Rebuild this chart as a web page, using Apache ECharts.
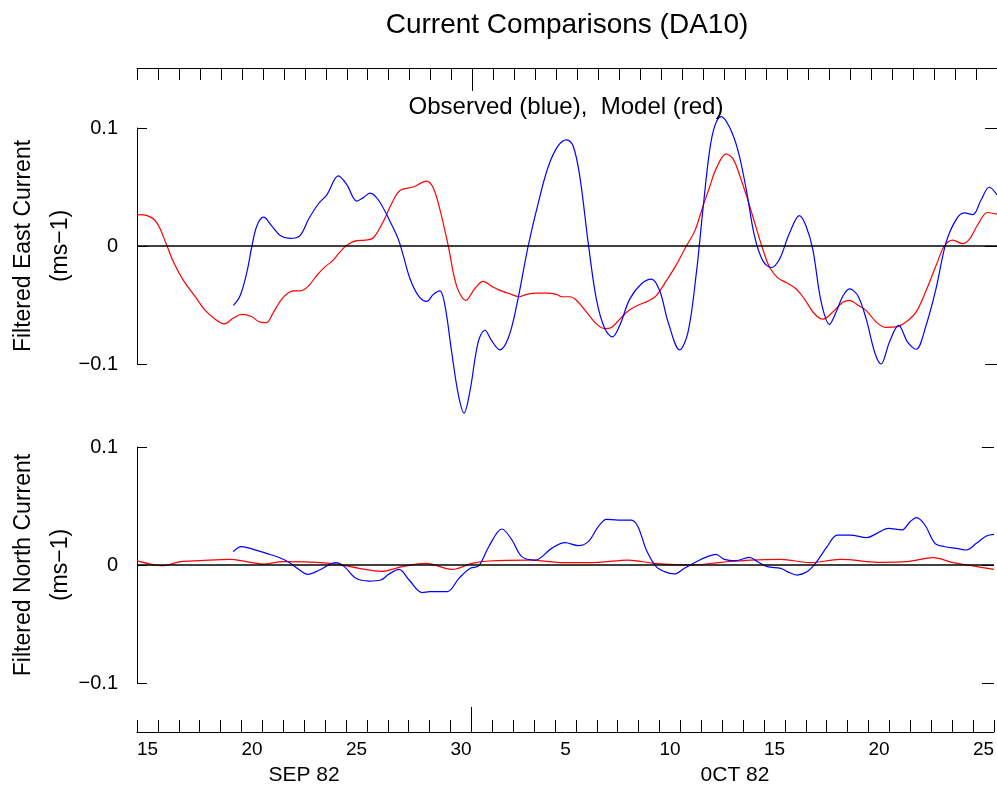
<!DOCTYPE html>
<html>
<head>
<meta charset="utf-8">
<script src="https://cdn.jsdelivr.net/npm/echarts@6/dist/echarts.min.js"></script>
<style>
html,body{margin:0;padding:0;background:#fff;}
#chart{width:997px;height:787px;}
</style>
</head>
<body>
<div id="chart"></div>
<script>
// Day categories (Sep 15 .. Oct 25, 1982); x values are days since Sep 15 00:00
const dayLabels = ['15','16','17','18','19','20','21','22','23','24','25','26','27','28','29','30',
  '1','2','3','4','5','6','7','8','9','10','11','12','13','14','15','16','17','18','19','20','21','22','23','24','25'];
const monthLabels = ['SEP 82', '0CT 82'];
const monthBoundary = [16]; // Oct 1 00:00
const titleText = 'Current Comparisons (DA10)';
const subtitleText = 'Observed (blue),  Model (red)';
const eastName = ['Filtered East Current', '(ms\u22121)'];
const northName = ['Filtered North Current', '(ms\u22121)'];

const eastObserved = [[4.6,-0.0504],[4.92,-0.042],[5.24,-0.022],[5.48,0],[5.71,0.0168],[6.03,0.0244],[6.43,0.0168],[6.83,0.009],[7.3,0.0064],[7.78,0.009],[8.17,0.0224],[8.65,0.0358],[9.05,0.0434],[9.6,0.0594],[10.0,0.052],[10.48,0.038],[10.79,0.041],[11.11,0.0448],[11.51,0.039],[12.06,0.021],[12.46,0.0056],[12.7,-0.0084],[13.02,-0.028],[13.41,-0.042],[13.81,-0.047],[14.13,-0.041],[14.44,-0.038],[14.68,-0.0504],[15.0,-0.0896],[15.32,-0.126],[15.59,-0.1416],[15.87,-0.1233],[16.27,-0.081],[16.59,-0.0714],[16.9,-0.080],[17.3,-0.088],[17.7,-0.078],[18.1,-0.0504],[18.65,0],[19.13,0.0364],[19.6,0.067],[20.08,0.085],[20.48,0.090],[20.79,0.085],[21.11,0.059],[21.51,0.0028],[21.9,-0.045],[22.3,-0.070],[22.67,-0.077],[23.02,-0.067],[23.49,-0.045],[24.05,-0.032],[24.52,-0.028],[24.92,-0.038],[25.32,-0.0644],[25.87,-0.088],[26.27,-0.073],[26.67,-0.0224],[26.98,0.031],[27.3,0.081],[27.55,0.102],[27.85,0.1096],[28.25,0.1006],[28.65,0.081],[29.05,0.0476],[29.44,0.0084],[29.84,-0.0126],[30.24,-0.0182],[30.63,-0.0112],[31.11,0.011],[31.58,0.0258],[31.9,0.0168],[32.22,-0.003],[32.62,-0.0476],[33.01,-0.0664],[33.33,-0.056],[33.65,-0.0426],[33.97,-0.0364],[34.36,-0.042],[34.76,-0.0616],[35.16,-0.0896],[35.47,-0.100],[35.87,-0.0815],[36.31,-0.0672],[36.74,-0.0815],[37.14,-0.0875],[37.62,-0.0672],[38.09,-0.0364],[38.57,0.0028],[39.05,0.0224],[39.44,0.028],[39.84,0.0266],[40.24,0.039],[40.63,0.0498],[41,0.0434]];

const eastModel = [[0,0.0266],[0.48,0.0258],[0.95,0.0196],[1.43,0],[1.75,-0.014],[2.22,-0.0294],[2.86,-0.045],[3.25,-0.0546],[3.73,-0.062],[4.16,-0.066],[4.6,-0.061],[5.0,-0.058],[5.48,-0.060],[5.79,-0.064],[6.16,-0.065],[6.51,-0.056],[6.98,-0.0434],[7.46,-0.038],[7.78,-0.038],[8.17,-0.034],[8.57,-0.025],[8.97,-0.0175],[9.29,-0.013],[9.68,-0.005],[10.0,0.0007],[10.48,0.0046],[10.87,0.005],[11.27,0.007],[11.75,0.021],[12.14,0.036],[12.54,0.047],[13.17,0.050],[13.81,0.055],[14.13,0.049],[14.44,0.031],[14.84,0],[15.24,-0.034],[15.68,-0.046],[16.11,-0.036],[16.51,-0.030],[16.9,-0.034],[17.22,-0.037],[17.7,-0.040],[18.22,-0.043],[18.57,-0.041],[19.05,-0.040],[19.52,-0.040],[20.0,-0.041],[20.24,-0.043],[20.64,-0.043],[20.95,-0.046],[21.43,-0.056],[21.9,-0.066],[22.3,-0.070],[22.62,-0.069],[23.02,-0.062],[23.49,-0.054],[23.97,-0.0496],[24.44,-0.046],[24.76,-0.042],[25.24,-0.0294],[25.71,-0.016],[26.19,0],[26.59,0.0126],[26.98,0.0336],[27.3,0.050],[27.62,0.066],[28.09,0.078],[28.41,0.074],[28.73,0.060],[29.12,0.039],[29.52,0.0154],[29.84,-0.003],[30.16,-0.018],[30.55,-0.027],[30.95,-0.031],[31.43,-0.0364],[31.82,-0.045],[32.3,-0.0574],[32.7,-0.062],[33.17,-0.056],[33.65,-0.0476],[33.97,-0.046],[34.36,-0.050],[34.76,-0.0546],[35.24,-0.0644],[35.71,-0.069],[36.19,-0.0686],[36.66,-0.0644],[37.14,-0.056],[37.62,-0.0378],[38.09,-0.0168],[38.49,0],[38.89,0.005],[39.36,0.002],[39.68,0.0056],[40.08,0.018],[40.55,0.0284],[41,0.027]];

const northObserved = [[4.6,0.0113],[5.0,0.0155],[5.56,0.0133],[6.19,0.0099],[6.83,0.0062],[7.3,0.002],[7.78,-0.0042],[8.17,-0.0079],[8.73,-0.0042],[9.52,0.002],[9.92,-0.0014],[10.48,-0.0113],[11.11,-0.0136],[11.67,-0.0127],[12.06,-0.0076],[12.54,-0.0037],[13.02,-0.0127],[13.65,-0.0234],[14.0,-0.0226],[14.37,-0.0226],[14.84,-0.0226],[15.4,-0.0113],[15.95,-0.0028],[16.35,-0.0008],[16.83,0.0155],[17.46,0.0305],[17.94,0.0212],[18.41,0.0071],[19.05,0.0042],[19.84,0.0141],[20.48,0.0189],[21.11,0.0164],[21.59,0.0198],[22.07,0.0325],[22.46,0.0387],[23.02,0.0381],[23.65,0.0381],[23.97,0.0325],[24.37,0.0127],[24.84,-0.0014],[25.24,-0.0056],[25.71,-0.0076],[26.19,-0.0028],[26.83,0.0034],[27.3,0.0071],[27.7,0.009],[28.1,0.0048],[28.65,0.0037],[29.29,0.0065],[29.69,0.0028],[30.16,-0.0014],[30.8,-0.0028],[31.11,-0.0056],[31.59,-0.0085],[32.07,-0.0056],[32.46,0.0014],[33.02,0.0155],[33.5,0.0254],[34.13,0.0254],[34.92,0.0232],[35.4,0.0268],[35.95,0.0311],[36.59,0.0297],[36.99,0.0367],[37.3,0.0401],[37.7,0.0339],[38.18,0.0184],[38.65,0.0155],[39.21,0.0141],[39.69,0.0127],[40.16,0.0184],[40.64,0.0246],[41,0.026]];

const northModel = [[0,0.0037],[0.63,0.0008],[1.27,-0.0006],[2.06,0.0028],[3.02,0.0037],[4.44,0.0048],[5.24,0.0028],[6.03,0.0008],[6.98,0.0028],[8.25,0.0025],[9.52,0.0008],[10.63,-0.0028],[11.67,-0.0054],[12.7,-0.0014],[13.81,0.0014],[15.08,-0.0037],[16.03,0.0014],[16.83,0.0034],[18.73,0.0042],[20.48,0.002],[22.07,0.0023],[23.5,0.0042],[24.76,0.0014],[26.51,0],[27.94,0.0023],[29.37,0.0042],[30.8,0.0048],[32.22,0.002],[33.65,0.0048],[35.56,0.0023],[36.83,0.0028],[38.1,0.0062],[39.05,0.002],[40.0,-0.0008],[41,-0.0037]];

const FONT = '"Liberation Sans", Arial, Helvetica, sans-serif';
const BLACK = '#000';
const dayMax = dayLabels.length;

const chart = echarts.init(document.getElementById('chart'), null, {renderer: 'canvas'});

function dataX(gridIndex) {
  return {type: 'value', gridIndex, min: 0, max: dayMax, show: false};
}
function dateAxis(gridIndex, position, offset, showLabels) {
  return {
    type: 'category', gridIndex, position, offset, data: dayLabels, boundaryGap: true,
    axisLine: {show: true, onZero: false, lineStyle: {color: BLACK, width: 1}},
    axisTick: {show: true, inside: true, length: 12, interval: 0, lineStyle: {color: BLACK, width: 1}},
    axisLabel: {show: showLabels, interval: 4, color: BLACK, fontSize: 19, fontFamily: FONT, margin: 8},
    splitLine: {show: false}
  };
}
function longTickAxis(gridIndex, position, offset, len) {
  return {
    type: 'value', gridIndex, position, offset, min: 0, max: dayMax,
    axisLine: {show: false, onZero: false},
    axisTick: {show: true, inside: true, length: len, customValues: monthBoundary, lineStyle: {color: BLACK, width: 1}},
    axisLabel: {show: false},
    splitLine: {show: false}
  };
}
function leftY(gridIndex) {
  return {
    type: 'value', gridIndex, position: 'left', min: -0.1, max: 0.1, interval: 0.1,
    axisLine: {show: true, onZero: false, lineStyle: {color: BLACK, width: 1}},
    axisTick: {show: true, inside: true, length: 10, lineStyle: {color: BLACK, width: 1}},
    axisLabel: {color: BLACK, fontSize: 20, fontFamily: FONT, margin: 19,
      formatter: v => Math.abs(v) < 1e-9 ? '0' : (v < 0 ? '\u2212' : '') + Math.abs(v).toFixed(1)},
    splitLine: {show: false}
  };
}
function rightY(gridIndex) {
  return {
    type: 'value', gridIndex, position: 'right', min: -0.1, max: 0.1, interval: 0.1,
    axisLine: {show: false, onZero: false},
    axisTick: {show: true, inside: true, length: 12, lineStyle: {color: BLACK, width: 1}},
    axisLabel: {show: false},
    splitLine: {show: false}
  };
}
function zeroLine() {
  return {silent: true, symbol: 'none', label: {show: false},
    lineStyle: {color: BLACK, width: 1.5, type: 'solid'}, data: [{yAxis: 0}], animation: false};
}
function line(name, data, color, xi, yi, withZero) {
  const s = {name, type: 'line', data, xAxisIndex: xi, yAxisIndex: yi, showSymbol: false, smooth: 0.35,
    clip: false, lineStyle: {color, width: 1.2}, itemStyle: {color}, animation: false};
  if (withZero) s.markLine = zeroLine();
  return s;
}
function nameText(lines, cy) {
  return [
    {type: 'text', x: 24, y: cy, rotation: Math.PI / 2,
     style: {text: lines[0], align: 'center', verticalAlign: 'middle', font: '23px ' + FONT, fill: BLACK}},
    {type: 'text', x: 61, y: cy, rotation: Math.PI / 2,
     style: {text: lines[1], align: 'center', verticalAlign: 'middle', font: '23px ' + FONT, fill: BLACK}}
  ];
}

chart.setOption({
  backgroundColor: '#fff',
  animation: false,
  title: [
    {text: titleText, left: 562, top: 6, textAlign: 'center',
     textStyle: {fontFamily: FONT, fontSize: 28, fontWeight: 'normal', color: BLACK}},
    {text: subtitleText, left: 561, top: 90, textAlign: 'center',
     textStyle: {fontFamily: FONT, fontSize: 24, fontWeight: 'normal', color: BLACK}}
  ],
  grid: [
    {left: 137, right: 0, top: 128, height: 236, containLabel: false},
    {left: 137, right: 0, top: 447, height: 236, containLabel: false}
  ],
  xAxis: [
    dataX(0), dateAxis(0, 'top', 60, false), longTickAxis(0, 'top', 60, 23),
    dataX(1), dateAxis(1, 'bottom', 49, true), longTickAxis(1, 'bottom', 49, 25)
  ],
  yAxis: [leftY(0), rightY(0), leftY(1), rightY(1)],
  series: [
    line('Model East', eastModel, '#ff0000', 0, 0, true),
    line('Observed East', eastObserved, '#0000ff', 0, 0, false),
    line('Model North', northModel, '#ff0000', 3, 2, true),
    line('Observed North', northObserved, '#0000ff', 3, 2, false)
  ],
  graphic: [
    ...nameText(eastName, 246),
    ...nameText(northName, 565),
    {type: 'text', x: 304, y: 775, style: {text: monthLabels[0], align: 'center', verticalAlign: 'middle', font: '21px ' + FONT, fill: BLACK}},
    {type: 'text', x: 735, y: 775, style: {text: monthLabels[1], align: 'center', verticalAlign: 'middle', font: '21px ' + FONT, fill: BLACK}}
  ]
});
</script>
</body>
</html>
